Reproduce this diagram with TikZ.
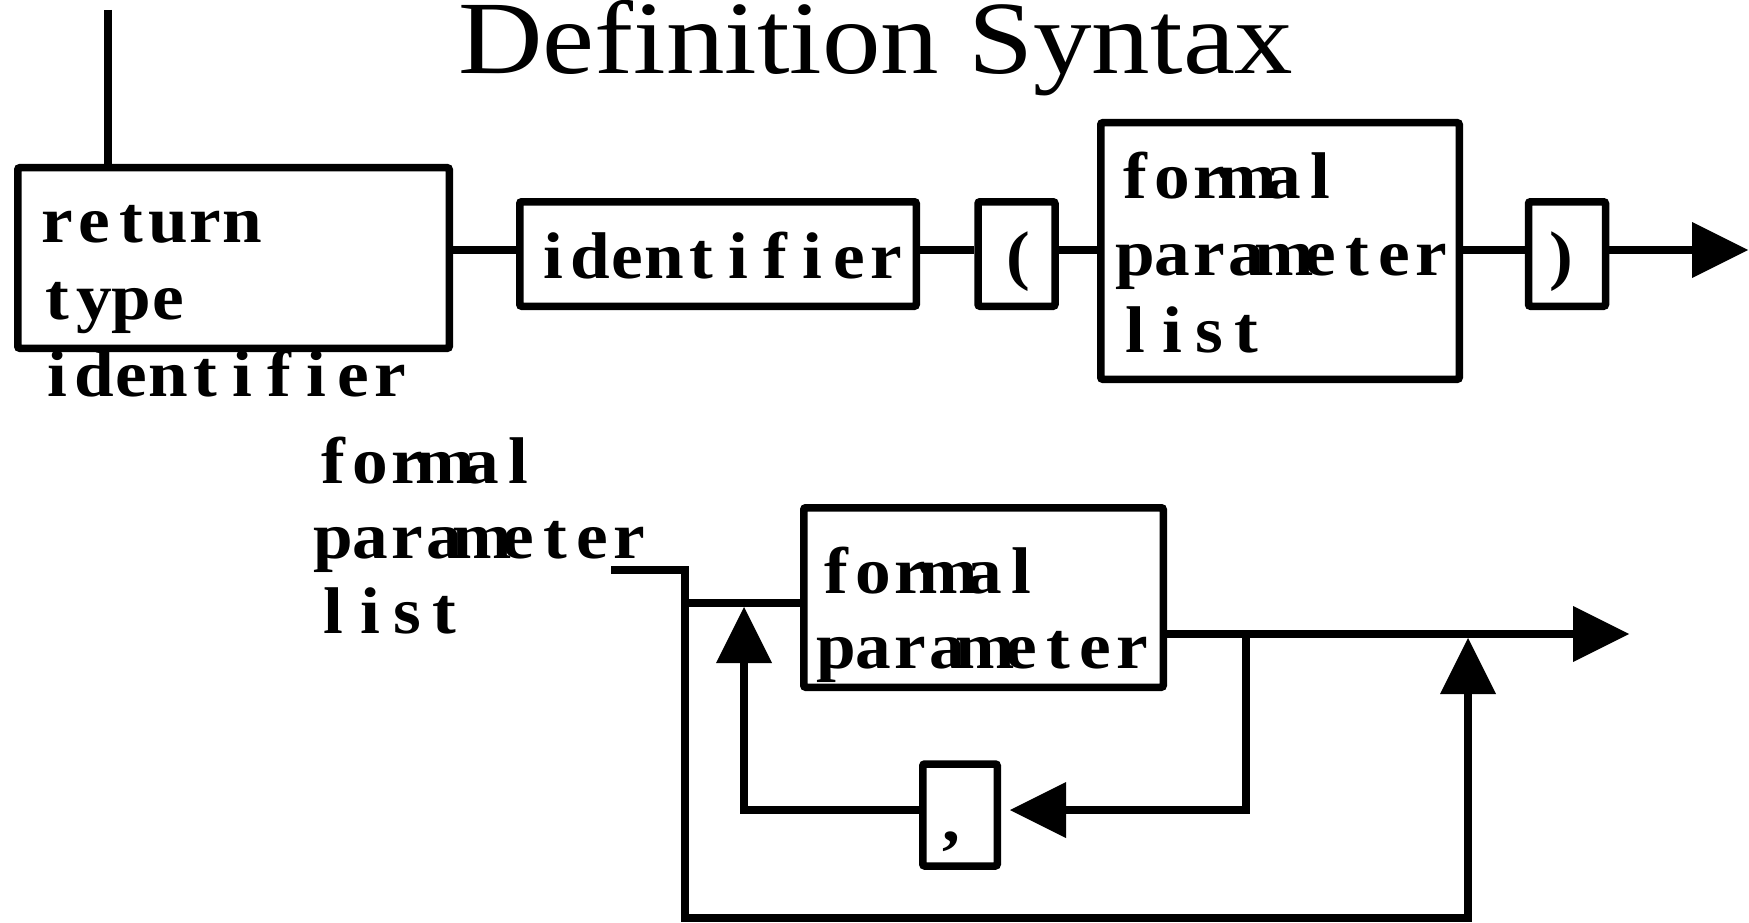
\documentclass[tikz,border=0pt]{standalone}
\usepackage{fontspec}
\setmainfont{Liberation Serif}[Ligatures=CommonOff]
\usetikzlibrary{arrows.meta}

% fixed-pitch setting: every character sits in a cell of equal width
\newlength\cellw
\setlength\cellw{37pt}
\makeatletter
\newcommand\wideglyph[1]{\scalebox{1.08}[1]{#1}}
\newcommand\mono[1]{\@tfor\mn@c:=#1\do{\makebox[\cellw][c]{\wideglyph{\mn@c}}}}
\makeatother

\tikzset{
  box/.style={draw, line width=7.5pt, rounded corners=2pt, inner sep=0pt,
              minimum width=#1},
  wire/.style={line width=7.5pt, line join=miter},
  tip/.style={-{Triangle[length=56pt,width=56pt,line width=0pt]}},
  lab/.style={anchor=base west, inner sep=0pt,
              font=\fontsize{66}{77}\selectfont\bfseries},
}

\begin{document}
\begin{tikzpicture}[x=1pt,y=-1pt]
\useasboundingbox (0,0) rectangle (1749,923);

% heading
\node[anchor=base west, inner sep=0pt] (title) at (458,74)
  {\fontsize{104}{104}\selectfont\scalebox{1.125}[1]{Definition Syntax}};

% ---------- function definition ----------
\node[box=431.5pt, minimum height=180.5pt] (rt)  at (233.5,258) {};
\node[box=396.5pt, minimum height=104.5pt] (id)  at (718,254) {};
\node[box=77pt,    minimum height=104.5pt] (lp)  at (1016.5,254) {};
\node[box=358.5pt, minimum height=256.5pt] (fpl) at (1280,251) {};
\node[box=77pt,    minimum height=104.5pt] (rp)  at (1567,254) {};

\node[lab] (rt1) at (39,242)  {\mono{return}};
\node[lab] (rt2) at (39,319)  {\mono{type}};
\node[lab] (rt3) at (39,396)  {\mono{identifier}};
\node[lab] (idt) at (535,278) {\mono{identifier}};
\node[lab, anchor=base] (lpt) at (1018,277) {\wideglyph{(}};
\node[lab, anchor=base] (rpt) at (1561,277) {\wideglyph{)}};
\node[lab] (fpl1) at (1117,198) {\mono{formal}};
\node[lab] (fpl2) at (1117,275) {\mono{parameter}};
\node[lab] (fpl3) at (1117,352) {\mono{list}};

\coordinate (start)  at (108,10);
\coordinate (row)    at (0,250);
\coordinate (endtop) at (1748,250);

\draw[wire] (start) -- (start |- rt.north);
\draw[wire] (rt.east |- row) -- (id.west |- row);
\draw[wire] (id.east |- row) -- (lp.west |- row);
\draw[wire] (lp.east |- row) -- (fpl.west |- row);
\draw[wire] (fpl.east |- row) -- (rp.west |- row);
\draw[wire,tip] (rp.east |- row) -- (endtop);

% ---------- formal parameter list ----------
\node[lab] (fl1) at (315,483) {\mono{formal}};
\node[lab] (fl2) at (315,558) {\mono{parameter}};
\node[lab] (fl3) at (315,633) {\mono{list}};

\node[box=359.5pt, minimum height=179.5pt] (fp)    at (983.5,597.5) {};
\node[box=74.5pt,  minimum height=102pt]   (comma) at (960,815) {};

\node[lab] (fp1) at (818,593) {\mono{formal}};
\node[lab] (fp2) at (818,668) {\mono{parameter}};
\node[lab, anchor=base] (ct) at (951,841) {\wideglyph{,}};

\coordinate (fin)     at (611,570);
\coordinate (split)   at (685,570);
\coordinate (bottomL) at (685,918);
\coordinate (bottomR) at (1468,918);
\coordinate (join)    at (1468,638);
\coordinate (branch)  at (685,603);
\coordinate (mainout) at (1629,634);
\coordinate (loopR)   at (1246,634);
\coordinate (loopRB)  at (1246,810);
\coordinate (loopL)   at (744,810);
\coordinate (loopTip) at (744,607);

\draw[wire,tip] (fin) -- (split) -- (bottomL) -- (bottomR) -- (join);
\draw[wire] (branch) -- (branch -| fp.west);
\draw[wire,tip] (fp.east |- mainout) -- (mainout);
\draw[wire,tip] (loopR) -- (loopRB) -- ([xshift=9pt]comma.east |- loopRB);
\draw[wire,tip] (comma.west |- loopL) -- (loopL) -- (loopTip);
\end{tikzpicture}
\end{document}
